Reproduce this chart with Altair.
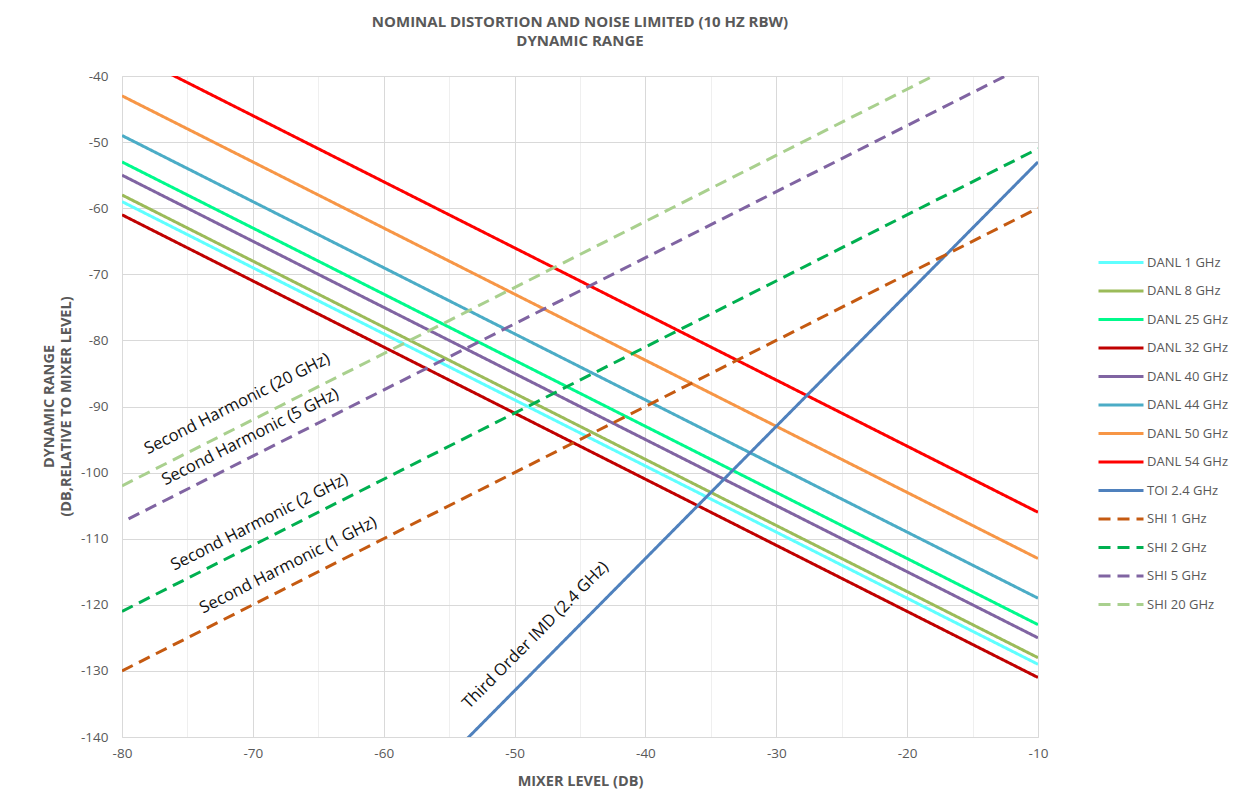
import altair as alt
import pandas as pd

# ---- data ----
series = ["DANL 1 GHz", "DANL 8 GHz", "DANL 25 GHz", "DANL 32 GHz", "DANL 40 GHz",
          "DANL 44 GHz", "DANL 50 GHz", "DANL 54 GHz", "TOI 2.4 GHz",
          "SHI 1 GHz", "SHI 2 GHz", "SHI 5 GHz", "SHI 20 GHz"]
x_start = [-80, -80, -80, -80, -80, -80, -80, -80, -80, -80, -80, -79.5, -80]
x_end = [-10, -10, -10, -10, -10, -10, -10, -10, -10, -10, -10, -10, -10]
y_start = [-59, -58, -53, -61, -55, -49, -43, -36, -193, -130, -121, -107, -102]
y_end = [-129, -128, -123, -131, -125, -119, -113, -106, -53, -60, -51, -37.5, -32]

colors = ["#5fffff", "#9bbb59", "#00fa8c", "#c00000", "#8064a2", "#4bacc6",
          "#f79646", "#ff0000", "#4f81bd", "#c55a11", "#00b050", "#8064a2", "#a9d08e"]
solid = [1, 0]
dashed = [12, 7]
dashes = [solid] * 9 + [dashed] * 4

shi_labels = ["Second Harmonic (20 GHz)", "Second Harmonic (5 GHz)",
              "Second Harmonic (2 GHz)", "Second Harmonic (1 GHz)"]
shi_label_x = [-71.2, -70.2, -69.5, -67.3]
shi_label_y = [-89.6, -94.6, -107.5, -114.0]
toi_labels = ["Third Order IMD (2.4 GHz)"]
toi_label_x = [-48.4]
toi_label_y = [-124.6]

title_lines = ["NOMINAL DISTORTION AND NOISE LIMITED (10 HZ RBW)", "DYNAMIC RANGE"]
x_title = "MIXER LEVEL (DB)"
y_title = ["DYNAMIC RANGE", "(DB,RELATIVE TO MIXER LEVEL)"]

# ---- tables ----
rows = []
for s, xs, xe, ys, ye in zip(series, x_start, x_end, y_start, y_end):
    rows.append({"series": s, "x": xs, "y": ys})
    rows.append({"series": s, "x": xe, "y": ye})
df = pd.DataFrame(rows)
shi_df = pd.DataFrame({"label": shi_labels, "x": shi_label_x, "y": shi_label_y})
toi_df = pd.DataFrame({"label": toi_labels, "x": toi_label_x, "y": toi_label_y})

FONT = "Open Sans"
GREY = "#595959"
grid_cond = {"condition": {"test": "datum.value % 10 === 0", "value": "#d9d9d9"},
             "value": "#efefef"}
label_expr = "datum.value % 10 === 0 ? '' + datum.value : ''"

xaxis = alt.Axis(values=list(range(-80, -9, 5)), labelExpr=label_expr,
                 grid=True, gridColor=grid_cond, gridWidth=1, ticks=False, domain=False,
                 labelFlush=False, labelOverlap=False, labelPadding=9,
                 labelFont=FONT, labelFontSize=13.5, labelColor=GREY,
                 title=x_title, titleFont=FONT, titleFontSize=14.5, titleFontWeight="bold",
                 titleColor=GREY, titleY=48, titleBaseline="alphabetic")
yaxis = alt.Axis(values=list(range(-140, -39, 5)), labelExpr=label_expr,
                 grid=True, gridColor=grid_cond, gridWidth=1, ticks=False, domain=False,
                 labelFlush=False, labelOverlap=False, labelPadding=14,
                 labelFont=FONT, labelFontSize=13.5, labelColor=GREY,
                 title=y_title, titleFont=FONT, titleFontSize=14.5, titleFontWeight="bold",
                 titleColor=GREY, titleAngle=270, titleX=-69, titleY=330,
                 titleBaseline="alphabetic", titleAlign="center", titleLineHeight=17.5)

legend = alt.Legend(title=None, orient="none", legendX=990, legendY=177.5,
                    symbolType="M-3,0H3", symbolSize=225, symbolStrokeWidth=3,
                    labelFont=FONT, labelFontSize=13, labelColor=GREY,
                    labelOffset=17, rowPadding=12.5, padding=0)

xs = alt.Scale(domain=[-80, -10], nice=False, zero=False)
ys = alt.Scale(domain=[-140, -40], nice=False, zero=False)

lines = alt.Chart(df).mark_line(strokeWidth=3, clip=True, strokeCap="butt").encode(
    x=alt.X("x:Q", scale=xs, axis=xaxis),
    y=alt.Y("y:Q", scale=ys, axis=yaxis),
    color=alt.Color("series:N", scale=alt.Scale(domain=series, range=colors),
                    legend=legend, sort=series),
    strokeDash=alt.StrokeDash("series:N", scale=alt.Scale(domain=series, range=dashes),
                              legend=legend, sort=series),
)

shi_text = alt.Chart(shi_df).mark_text(font=FONT, fontSize=16.5, color="#111111",
                                       align="center", baseline="middle",
                                       angle=333.2).encode(
    x=alt.X("x:Q", scale=xs), y=alt.Y("y:Q", scale=ys), text="label:N")
toi_text = alt.Chart(toi_df).mark_text(font=FONT, fontSize=16.5, color="#111111",
                                       align="center", baseline="middle",
                                       angle=314.7).encode(
    x=alt.X("x:Q", scale=xs), y=alt.Y("y:Q", scale=ys), text="label:N")

chart = alt.layer(lines, shi_text, toi_text).properties(
    width=916, height=661,
    title=alt.Title(title_lines, font=FONT, fontSize=15, fontWeight="bold",
                    color=GREY, anchor="middle", offset=20, lineHeight=19),
    padding={"left": 114, "top": 68, "right": 197, "bottom": 60},
    autosize="none",
).configure_view(stroke=None).configure(background="white")

chart.save("out.html", embed_options={"renderer": "svg", "actions": False})
